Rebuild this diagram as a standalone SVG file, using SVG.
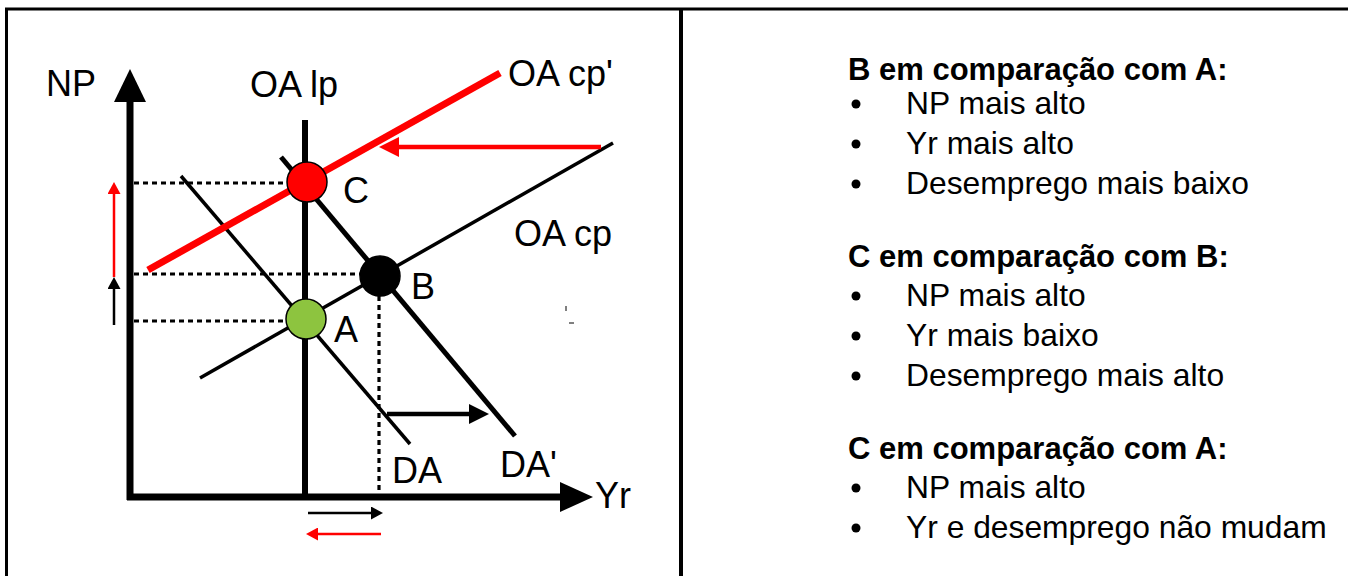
<svg xmlns="http://www.w3.org/2000/svg" width="1348" height="576" viewBox="0 0 1348 576">
<style>
  .lbl { font-family: "Liberation Sans", Arial, sans-serif; font-size: 36px; fill: #000; }
  .hd { font-family: "Liberation Sans", Arial, sans-serif; font-size: 31px; font-weight: bold; fill: #000; }
  .tx { font-family: "Liberation Sans", Arial, sans-serif; font-size: 31.8px; fill: #000; }
  .dot { stroke: #000; stroke-width: 3.2; stroke-dasharray: 5 4; fill: none; }
  .blk { stroke: #000; fill: none; }
  .red { stroke: #FF0000; fill: none; }
  .pt { stroke: #000; stroke-width: 1.5; }
</style>
<defs>
  <marker id="hbs" markerUnits="userSpaceOnUse" markerWidth="12" markerHeight="13" refX="0" refY="6.5" orient="auto">
    <path d="M0,0 L12,6.5 L0,13 z" fill="#000"/>
  </marker>
  <marker id="hrs" markerUnits="userSpaceOnUse" markerWidth="12" markerHeight="13" refX="0" refY="6.5" orient="auto">
    <path d="M0,0 L12,6.5 L0,13 z" fill="#FF0000"/>
  </marker>
  <marker id="hbl" markerUnits="userSpaceOnUse" markerWidth="20" markerHeight="20" refX="0" refY="10" orient="auto">
    <path d="M0,0 L20,10 L0,20 z" fill="#000"/>
  </marker>
  <marker id="hrl" markerUnits="userSpaceOnUse" markerWidth="20" markerHeight="20" refX="0" refY="10" orient="auto">
    <path d="M0,0 L20,10 L0,20 z" fill="#FF0000"/>
  </marker>
</defs>
<rect width="1348" height="576" fill="#fff"/>

<g id="frame" stroke="#000" fill="none">
  <line x1="5" y1="9" x2="1348" y2="9" stroke-width="3"/>
  <line x1="6.5" y1="8" x2="6.5" y2="576" stroke-width="3"/>
  <line x1="681" y1="8" x2="681" y2="576" stroke-width="4"/>
</g>

<g id="axes">
  <line x1="130" y1="500" x2="130" y2="100" stroke="#000" stroke-width="7"/>
  <polygon points="130,69 114,102 146,102" fill="#000"/>
  <line x1="127" y1="497" x2="562" y2="497" stroke="#000" stroke-width="7"/>
  <polygon points="593,497 560,482 560,512" fill="#000"/>
</g>

<g id="guides">
  <line class="dot" x1="134" y1="183" x2="290" y2="183"/>
  <line class="dot" x1="134" y1="274" x2="362" y2="274"/>
  <line class="dot" x1="134" y1="321" x2="288" y2="321"/>
  <line class="dot" x1="379" y1="296" x2="379" y2="494"/>
</g>

<g id="curves">
  <line id="oa-lp" class="blk" x1="305" y1="120" x2="305" y2="494" stroke-width="6"/>
  <line id="oa-cp" class="blk" x1="200" y1="378" x2="613" y2="143" stroke-width="3.5"/>
  <line id="da" class="blk" x1="181" y1="176" x2="410" y2="444" stroke-width="3.5"/>
  <line id="da2" class="blk" x1="281" y1="157" x2="515" y2="436" stroke-width="5"/>
  <line id="oa-cp2" class="red" x1="148" y1="270" x2="500" y2="73" stroke-width="7"/>
</g>

<g id="connectors">
  <line class="red" x1="601" y1="147" x2="399" y2="147" stroke-width="4.5" marker-end="url(#hrl)"/>
  <line class="blk" x1="387" y1="414" x2="469" y2="414" stroke-width="4.5" marker-end="url(#hbl)"/>
  <line class="blk" x1="114" y1="325" x2="114" y2="289" stroke-width="2.5" marker-end="url(#hbs)"/>
  <line class="red" x1="114" y1="277" x2="114" y2="194" stroke-width="2.5" marker-end="url(#hrs)"/>
  <line class="blk" x1="308" y1="513" x2="371" y2="513" stroke-width="2.5" marker-end="url(#hbs)"/>
  <line class="red" x1="381" y1="534" x2="318" y2="534" stroke-width="2.5" marker-end="url(#hrs)"/>
  <line x1="566" y1="306" x2="566" y2="311" stroke="#000" stroke-width="1"/>
  <line x1="569" y1="323" x2="574" y2="323" stroke="#000" stroke-width="1"/>
</g>

<g id="point-C"><circle class="pt" cx="307" cy="182" r="20" fill="#FF0000"/></g>
<g id="point-B"><circle class="pt" cx="380" cy="276" r="20" fill="#000"/></g>
<g id="point-A"><circle class="pt" cx="306" cy="319" r="20" fill="#8DC43F"/></g>

<g id="chart-labels">
  <text class="lbl" x="46" y="96">NP</text>
  <text class="lbl" x="250" y="97">OA lp</text>
  <text class="lbl" x="508" y="86">OA cp'</text>
  <text class="lbl" x="343" y="203">C</text>
  <text class="lbl" x="514" y="246">OA cp</text>
  <text class="lbl" x="411" y="299">B</text>
  <text class="lbl" x="334" y="342">A</text>
  <text class="lbl" x="392" y="483">DA</text>
  <text class="lbl" x="500" y="477">DA'</text>
  <text class="lbl" x="595" y="508">Yr</text>
</g>

<g id="comparisons">
  <text class="hd" x="848" y="80">B em comparação com A:</text>
  <circle cx="856" cy="104" r="4.5" fill="#000"/>
  <text class="tx" x="906" y="114">NP mais alto</text>
  <circle cx="856" cy="144" r="4.5" fill="#000"/>
  <text class="tx" x="906" y="154">Yr mais alto</text>
  <circle cx="856" cy="184" r="4.5" fill="#000"/>
  <text class="tx" x="906" y="194">Desemprego mais baixo</text>

  <text class="hd" x="848" y="267">C em comparação com B:</text>
  <circle cx="856" cy="296" r="4.5" fill="#000"/>
  <text class="tx" x="906" y="306">NP mais alto</text>
  <circle cx="856" cy="336" r="4.5" fill="#000"/>
  <text class="tx" x="906" y="346">Yr mais baixo</text>
  <circle cx="856" cy="376" r="4.5" fill="#000"/>
  <text class="tx" x="906" y="386">Desemprego mais alto</text>

  <text class="hd" x="848" y="459">C em comparação com A:</text>
  <circle cx="856" cy="488" r="4.5" fill="#000"/>
  <text class="tx" x="906" y="498">NP mais alto</text>
  <circle cx="856" cy="528" r="4.5" fill="#000"/>
  <text class="tx" x="906" y="538">Yr e desemprego não mudam</text>
</g>
</svg>
